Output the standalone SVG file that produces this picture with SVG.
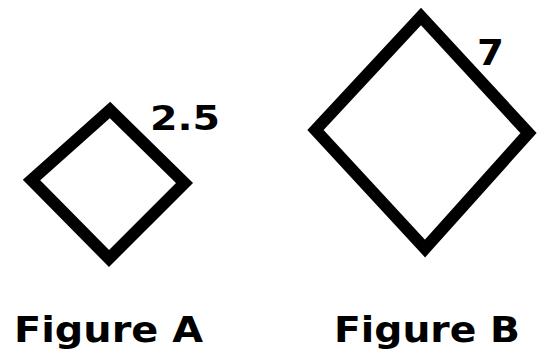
<svg xmlns="http://www.w3.org/2000/svg" width="540" height="356" viewBox="0 0 540 356">
<style>
.shape{fill:none;stroke:#000;stroke-width:12;stroke-linejoin:miter}
.lbl{font-family:"DejaVu Sans","Verdana",sans-serif;font-weight:bold;fill:#000}
</style>
<rect width="540" height="356" fill="#fff"/>
<g id="figureA">
<polygon class="shape" points="110,110 184.5,183 109,258.5 31.5,180"/>
<text class="lbl" x="150" y="130" font-size="34" textLength="70" lengthAdjust="spacingAndGlyphs">2.5</text>
<text class="lbl" x="14" y="342" font-size="36" textLength="189" lengthAdjust="spacingAndGlyphs">Figure A</text>
</g>
<g id="figureB">
<polygon class="shape" points="421,16.5 528.5,133 425,248.5 315.5,130"/>
<text class="lbl" x="477" y="65" font-size="35" textLength="27" lengthAdjust="spacingAndGlyphs">7</text>
<text class="lbl" x="334" y="342" font-size="36" textLength="186" lengthAdjust="spacingAndGlyphs">Figure B</text>
</g>
<g id="connectors"></g>
</svg>
